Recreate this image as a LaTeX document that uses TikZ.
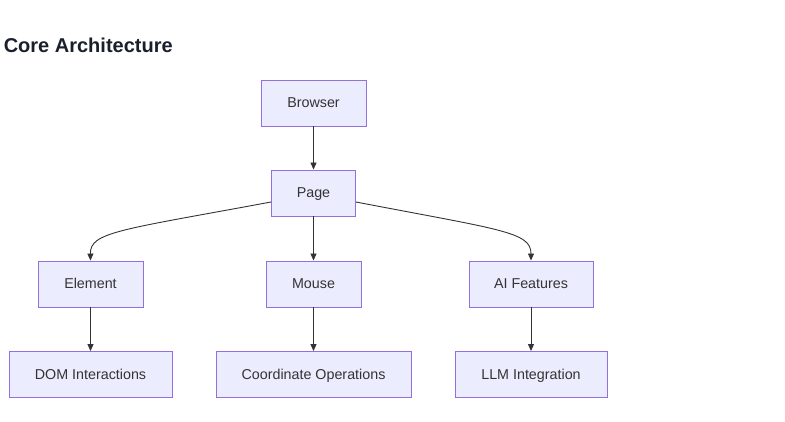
\documentclass[tikz,border=0pt]{standalone}
\usepackage{fontspec}
\setmainfont{Liberation Sans}
\usetikzlibrary{arrows.meta}
\definecolor{boxfill}{HTML}{ECECFF}
\definecolor{boxline}{HTML}{9370DB}
\definecolor{ink}{HTML}{333333}
\definecolor{titleink}{HTML}{1A1F2B}
\begin{document}
\begin{tikzpicture}[x=1pt, y=-1pt, line width=0.9pt]
\tikzstyle{every node} = [font=\fontsize{14.3}{16}\selectfont, text=ink]
\tikzstyle{box} = [rectangle, draw=boxline, fill=boxfill, minimum height=46pt, inner sep=0pt, text height=13pt, text depth=3pt]
\tikzstyle{link} = [draw=ink, -{Triangle[length=7pt, width=6pt]}]
\useasboundingbox (0,0) rectangle (785,422);
\node[anchor=west, font=\fontsize{20}{22}\selectfont\bfseries, text=titleink] (title) at (0,45) {Core Architecture};
\node[box, minimum width=105pt] (browser) at (313.5,103) {Browser};
\node[box, minimum width=84pt] (page) at (313.5,193) {Page};
\node[box, minimum width=105pt] (element) at (90.5,284) {Element};
\node[box, minimum width=95pt] (mouse) at (313.5,284) {Mouse};
\node[box, minimum width=124pt] (ai) at (531,284) {AI Features};
\node[box, minimum width=163pt] (dom) at (90.5,374.5) {DOM Interactions};
\node[box, minimum width=195pt] (coord) at (313.5,374.5) {Coordinate Operations};
\node[box, minimum width=152pt] (llm) at (531,374.5) {LLM Integration};
\draw[link] (browser) -- (page);
\draw[link] (page) -- (mouse);
\draw[link] ([yshift=-9pt]page.west) .. controls (120,230) and (90,232) .. (element.north);
\draw[link] ([yshift=-9pt]page.east) .. controls (502,230) and (531,232) .. (ai.north);
\draw[link] (element) -- (dom);
\draw[link] (mouse) -- (coord);
\draw[link] (ai) -- (llm);
\end{tikzpicture}
\end{document}
